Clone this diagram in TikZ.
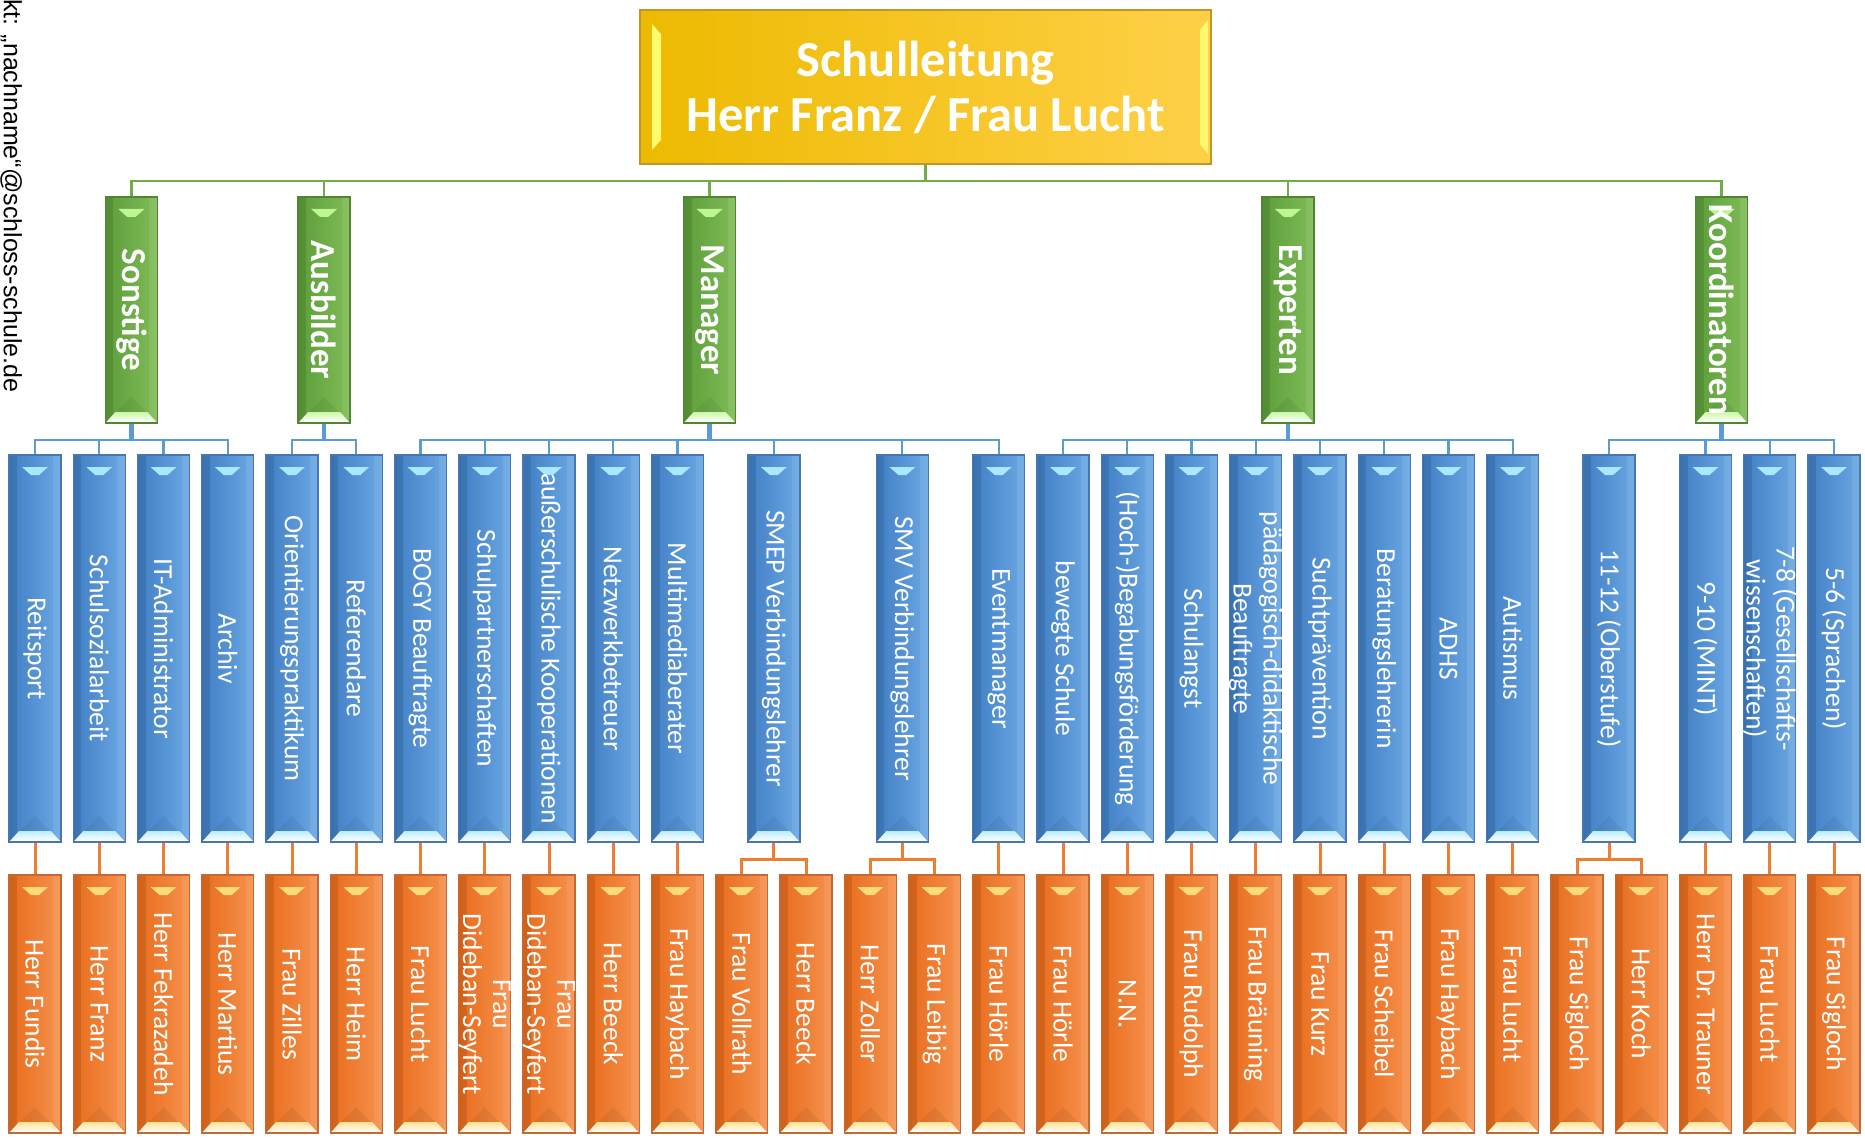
\documentclass[tikz,border=0pt]{standalone}
\usepackage{fontspec}
\setmainfont{Carlito}
\newfontfamily\sidefont{Liberation Sans}
\usetikzlibrary{calc}
\definecolor{bluedark}{RGB}{64,126,196}
\definecolor{bluelight}{RGB}{108,168,228}
\definecolor{blueborder}{RGB}{72,118,176}
\definecolor{bluehi}{RGB}{170,232,255}
\definecolor{orangedark}{RGB}{232,108,28}
\definecolor{orangelight}{RGB}{246,146,78}
\definecolor{orangeborder}{RGB}{196,104,52}
\definecolor{orangehi}{RGB}{255,218,120}
\definecolor{greendark}{RGB}{92,158,58}
\definecolor{greenlight}{RGB}{128,188,88}
\definecolor{greenborder}{RGB}{82,132,52}
\definecolor{greenhi}{RGB}{190,246,145}
\definecolor{yellowdark}{RGB}{236,186,0}
\definecolor{yellowlight}{RGB}{255,208,72}
\definecolor{yellowborder}{RGB}{192,150,40}
\definecolor{yellowhi}{RGB}{255,250,110}
\definecolor{glinec}{RGB}{112,173,71}
\definecolor{blinec}{RGB}{91,155,213}
\definecolor{olinec}{RGB}{237,125,49}
\tikzset{
  x=1pt, y=-1pt,
  bevels/.style={path picture={
    \fill[black,opacity=0.10] (path picture bounding box.north west) rectangle ([xshift=8pt]path picture bounding box.south west);
    \fill[white,opacity=0.08] ([xshift=-8pt]path picture bounding box.north east) rectangle (path picture bounding box.south east);
    \fill[#1] ([xshift=-13pt,yshift=-12pt]path picture bounding box.north) -- ([xshift=13pt,yshift=-12pt]path picture bounding box.north) -- ([xshift=4pt,yshift=-20pt]path picture bounding box.north) -- ([xshift=-4pt,yshift=-20pt]path picture bounding box.north) -- cycle;
    \fill[black,opacity=0.06] ([xshift=1pt,yshift=1pt]path picture bounding box.south west) -- ([xshift=-1pt,yshift=1pt]path picture bounding box.south east) -- ([yshift=26pt]path picture bounding box.south) -- cycle;
    \shade[top color=#1!80!white, bottom color=white] ([xshift=10pt,yshift=11pt]path picture bounding box.south west) -- ([xshift=-10pt,yshift=11pt]path picture bounding box.south east) -- ([xshift=-1pt,yshift=1pt]path picture bounding box.south east) -- ([xshift=1pt,yshift=1pt]path picture bounding box.south west) -- cycle;
  }},
  cbox/.style={rectangle, inner sep=0pt, line width=1.3pt, minimum width=52pt},
  bluebox/.style={cbox, minimum height=387pt, draw=blueborder, left color=bluedark, right color=bluelight, bevels=bluehi},
  orgbox/.style={cbox, minimum height=258pt, draw=orangeborder, left color=orangedark, right color=orangelight, bevels=orangehi},
  grnbox/.style={cbox, minimum height=226pt, draw=greenborder, left color=greendark, right color=greenlight, bevels=greenhi},
  ylwbox/.style={rectangle, inner sep=0pt, line width=1.3pt, minimum width=571pt, minimum height=154pt,
    draw=yellowborder, left color=yellowdark, right color=yellowlight,
    text=white, align=center, font=\fontsize{50.5}{55}\selectfont\bfseries,
    path picture={
      \fill[yellowhi] ([xshift=12pt,yshift=-14pt]path picture bounding box.north west) -- ([xshift=21pt,yshift=-24pt]path picture bounding box.north west) -- ([xshift=21pt,yshift=24pt]path picture bounding box.south west) -- ([xshift=12pt,yshift=14pt]path picture bounding box.south west) -- cycle;
      \fill[yellowhi] ([xshift=-3pt,yshift=-10pt]path picture bounding box.north east) -- ([xshift=-11pt,yshift=-20pt]path picture bounding box.north east) -- ([xshift=-11pt,yshift=20pt]path picture bounding box.south east) -- ([xshift=-3pt,yshift=10pt]path picture bounding box.south east) -- cycle;
    }},
  vtxt/.style={rotate=-90, text=white, inner sep=0pt, align=center, font=\fontsize{27.5}{30}\selectfont},
  gtxt/.style={rotate=-90, text=white, inner sep=0pt, align=center, font=\fontsize{35}{40}\selectfont\bfseries},
  gline/.style={draw=glinec, line width=2.4pt},
  bline/.style={draw=blinec, line width=2.2pt},
  bthick/.style={draw=blinec, line width=4.5pt},
  oline/.style={draw=olinec, line width=3pt},
  sidetxt/.style={rotate=-90, anchor=base west, inner sep=0pt, font=\sidefont\fontsize{25}{28}\selectfont, text=black},
}
\begin{document}
\begin{tikzpicture}
\useasboundingbox (0,0) rectangle (1865,1139);

% side text
\node[sidetxt] (side) at (4,-1) {kt: „nachname“@schloss-schule.de};

% top
\node[ylwbox] (top) at (925.5,87) {Schulleitung\\Herr Franz / Frau Lucht};

% green level
\foreach \n/\x/\t in {g1/131.375/Sonstige, g2/324.125/Ausbilder, g3/709.625/Manager, g4/1287.875/Experten, g5/1721.5625/Koordinatoren}{
  \node[grnbox] (\n) at (\x,310) {};
  \node[gtxt] (\n t) at (\n.center) {\t};
}

% blue level
\foreach \n/\x/\t in {
  0/35/{Reitsport}, 1/99.25/{Schulsozialarbeit}, 2/163.5/{IT-Administrator}, 3/227.75/{Archiv},
  4/292/{Orientierungspraktikum}, 5/356.25/{Referendare}, 6/420.5/{BOGY Beauftragte},
  7/484.75/{Schulpartnerschaften}, 8/549/{außerschulische Kooperationen}, 9/613.25/{Netzwerkbetreuer},
  10/677.5/{Multimediaberater}, 11/773.875/{SMEP Verbindungslehrer}, 12/902.375/{SMV Verbindungslehrer},
  13/998.75/{Eventmanager}, 14/1063/{bewegte Schule}, 15/1127.25/{(Hoch-)Begabungsförderung},
  16/1191.5/{Schulangst}, 17/1255.75/{pädagogisch-didaktische\\Beauftragte}, 18/1320/{Suchtprävention},
  19/1384.25/{Beratungslehrerin}, 20/1448.5/{ADHS}, 21/1512.75/{Autismus},
  22/1609.125/{11-12 (Oberstufe)}, 23/1705.5/{9-10 (MINT)}, 24/1769.75/{7-8 (Gesellschafts-\\wissenschaften)},
  25/1834/{5-6 (Sprachen)}}{
  \node[bluebox] (b\n) at (\x,648.5) {};
  \node[vtxt] (b\n t) at (b\n.center) {\t};
}

% orange level
\foreach \n/\x/\t in {
  0/35/{Herr Fundis}, 1/99.25/{Herr Franz}, 2/163.5/{Herr Fekrazadeh}, 3/227.75/{Herr Martius},
  4/292/{Frau Zilles}, 5/356.25/{Herr Heim}, 6/420.5/{Frau Lucht}, 7/484.75/{Frau\\Dideban-Seyfert},
  8/549/{Frau\\Dideban-Seyfert}, 9/613.25/{Herr Beeck}, 10/677.5/{Frau Haybach}, 11/741.75/{Frau Vollrath},
  12/806/{Herr Beeck}, 13/870.25/{Herr Zoller}, 14/934.5/{Frau Leibig}, 15/998.75/{Frau Hörle},
  16/1063/{Frau Hörle}, 17/1127.25/{N.N.}, 18/1191.5/{Frau Rudolph}, 19/1255.75/{Frau Bräuning},
  20/1320/{Frau Kurz}, 21/1384.25/{Frau Scheibel}, 22/1448.5/{Frau Haybach}, 23/1512.75/{Frau Lucht},
  24/1577/{Frau Sigloch}, 25/1641.25/{Herr Koch}, 26/1705.5/{Herr Dr. Trauner}, 27/1769.75/{Frau Lucht},
  28/1834/{Frau Sigloch}}{
  \node[orgbox] (o\n) at (\x,1004) {};
  \node[vtxt] (o\n t) at (o\n.center) {\t};
}

% green connectors
\coordinate (gbus) at (925.5,181);
\foreach \g in {g1,g2,g3,g4,g5}{
  \draw[gline] (top.south) |- (gbus) -| (\g.north);
}

% blue connectors
\foreach \g/\lst in {g1/{0,1,2,3}, g2/{4,5}, g3/{6,7,8,9,10,11,12,13}, g4/{14,15,16,17,18,19,20,21}, g5/{22,23,24,25}}{
  \path (\g.south) ++(0,16) coordinate (\g-bus);
  \foreach \k in \lst {
    \draw[bline] (\g-bus) -| (b\k.north);
  }
  \draw[bthick] (\g.south) -- (\g-bus);
}

% orange connectors: single
\foreach \b/\o in {0/0,1/1,2/2,3/3,4/4,5/5,6/6,7/7,8/8,9/9,10/10,13/15,14/16,15/17,16/18,17/19,18/20,19/21,20/22,21/23,23/26,24/27,25/28}{
  \draw[oline] (b\b.south) -- (o\o.north);
}
% orange connectors: pairs
\foreach \b/\oa/\ob in {11/11/12, 12/13/14, 22/24/25}{
  \path (b\b.south) ++(0,17) coordinate (b\b-fork);
  \draw[oline] (b\b.south) -- (b\b-fork);
  \draw[oline] (b\b-fork) -| (o\oa.north);
  \draw[oline] (b\b-fork) -| (o\ob.north);
}
\end{tikzpicture}
\end{document}
